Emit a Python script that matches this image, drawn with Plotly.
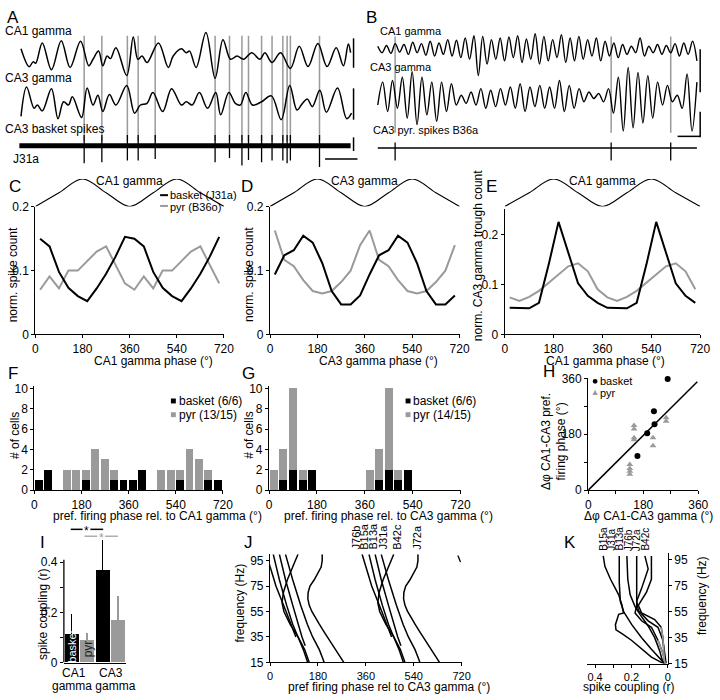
import plotly.graph_objects as go

# ===================== DATA =====================
# Panel A: CA1 / CA3 gamma LFP (time a.u., amplitude a.u., screen-down positive) and basket spikes
A_ca1_t = [55, 80, 92, 100, 120, 148, 178, 205, 237, 262, 275, 292, 305, 318, 328, 345, 378, 398, 412, 425,
           440, 475, 505, 520, 545, 560, 570, 590, 620, 648, 672, 695, 715, 735, 760, 785, 800, 822, 848, 878,
           905, 932, 962, 990, 1018, 1040, 1055, 1062]
A_ca1_v = [128, 183, 168, 172, 110, 192, 103, 185, 105, 180, 160, 135, 180, 150, 158, 125, 210, 92, 160, 150,
           170, 110, 185, 150, 128, 140, 135, 185, 78, 218, 100, 160, 150, 160, 140, 160, 140, 170, 140, 188,
           120, 182, 112, 182, 125, 180, 113, 140]
A_ca3_t = [55, 72, 95, 105, 120, 148, 168, 185, 200, 212, 240, 257, 275, 290, 305, 325, 345, 378, 402, 420,
           440, 458, 488, 515, 545, 560, 578, 600, 625, 650, 665, 690, 710, 725, 742, 762, 790, 820, 850, 876,
           898, 915, 930, 945, 968, 988, 1022, 1050, 1065]
A_ca3_v = [335, 245, 310, 300, 318, 250, 342, 290, 300, 275, 338, 248, 300, 270, 320, 268, 300, 240, 325, 300,
           295, 262, 320, 250, 300, 290, 300, 262, 310, 262, 330, 262, 295, 300, 262, 300, 290, 272, 345, 240,
           315, 295, 282, 305, 255, 322, 248, 342, 325]
A_spike_t = [248, 302, 380, 413, 465, 648, 692, 730, 750, 790, 822, 855, 868, 878, 967]
A_spike_low = [478, 475, 470, 470, 465, 475, 462, 485, 468, 475, 470, 470, 478, 470, 490]

# Panel B: CA1 / CA3 gamma LFP (successive extrema) and pyramidal spikes
B_ca1_v = [120, 140, 118, 142, 112, 138, 115, 145, 108, 140,
           112, 148, 105, 150, 110, 145, 100, 150, 102, 155,
           95, 160, 88, 210, 90, 175, 100, 160, 95, 165,
           92, 155, 88, 170, 98, 160, 82, 175, 90, 165,
           100, 155, 85, 170, 95, 165, 90, 160, 100, 150,
           95, 165, 105, 150, 110, 155, 115, 145, 120, 140,
           95, 150, 120, 140, 115, 145, 118, 140, 112, 150,
           110, 145, 105, 165]
B_ca3_v = [300, 230, 320, 225, 310, 215, 340, 198, 360, 215,
           330, 230, 350, 230, 320, 235, 300, 270, 295, 260,
           300, 250, 310, 255, 305, 250, 300, 245, 310, 235,
           320, 245, 305, 240, 310, 245, 310, 225, 320, 240,
           310, 250, 290, 260, 280, 265, 290, 250, 325, 215,
           380, 185, 370, 200, 355, 210, 340, 230, 300, 240,
           290, 270, 310, 205, 380, 230]
B_spike_t = [118, 778, 960]

# Panels C-E: phase histograms (bin centres of one gamma cycle, repeated for the 2nd cycle)
phase_centers = [18, 54, 90, 126, 162, 198, 234, 270, 306, 342]
C_basket = [0.150, 0.138, 0.098, 0.073, 0.060, 0.052, 0.072, 0.095, 0.122, 0.153]
C_pyr = [0.070, 0.091, 0.072, 0.100, 0.100, 0.115, 0.130, 0.138, 0.110, 0.080]
D_basket = [0.094, 0.124, 0.132, 0.155, 0.144, 0.112, 0.068, 0.047, 0.047, 0.061]
D_pyr = [0.163, 0.117, 0.107, 0.085, 0.068, 0.064, 0.068, 0.082, 0.100, 0.140]
E_basket = [0.053, 0.053, 0.052, 0.063, 0.140, 0.225, 0.165, 0.102, 0.077, 0.063]
E_pyr = [0.074, 0.067, 0.075, 0.087, 0.103, 0.120, 0.136, 0.142, 0.126, 0.090]
wave_phase = [0, 90, 180, 270, 360, 450, 540, 630, 720]
wave_val = [-1, 0, 1, 0, -1, 0, 1, 0, -1]

# Panels F-G: number of cells per preferred-phase bin (one cycle)
F_basket = [1, 2, 0, 0, 0, 1, 0, 0, 1, 1]
F_pyr = [0, 0, 0, 2, 2, 1, 4, 3, 1, 0]
G_basket = [0, 1, 2, 1, 2, 0, 0, 0, 0, 0]
G_pyr = [2, 3, 8, 1, 0, 0, 0, 0, 0, 0]

# Panel H
H_basket_x = [260, 215, 217, 193, 161]
H_basket_y = [358, 254, 212, 183, 110]
H_pyr_x = [150, 150, 150, 150, 136, 136, 136, 136, 212, 212, 255, 255]
H_pyr_y = [208, 197, 169, 162, 83, 70, 61, 51, 169, 143, 233, 222]
H_fit_x = [0, 357]
H_fit_y = [0, 349]

# Panel I
I_basket = [0.113, 0.370]
I_basket_err = [0.082, 0.120]
I_pyr = [0.088, 0.170]
I_pyr_err = [0.032, 0.095]

# Panel J: preferred phase vs frequency (first cycle; second = +360)
J_cells = {
    "J76b": ([100, 90, 75, 55, 45, 35], [-14, 0, 22, 60, 78, 97]),
    "B15a": ([100, 80, 60, 45, 35, 25, 15], [12, 35, 62, 85, 105, 125, 141]),
    "B13a": ([100, 80, 60, 45, 35, 28], [35, 58, 85, 105, 120, 132]),
    "J31a": ([100, 80, 60, 45, 35, 25, 18, 15], [58, 85, 115, 140, 160, 185, 198, 203]),
    "B42c": ([100, 90, 80, 70, 62, 55, 45, 35, 25, 15], [105, 85, 65, 50, 45, 52, 75, 105, 130, 147]),
    "J72a": ([100, 95, 90, 85, 80, 75, 70, 65, 60, 55, 50, 45, 40, 35, 30, 25, 20, 15],
             [196, 196, 192, 180, 166, 150, 143, 142, 147, 157, 170, 185, 200, 215, 232, 248, 262, 277]),
}
J_stray_f = [99, 94]
J_stray_p = [706, 716]
J_labels = ["J76b", "B15a", "B13a", "J31a", "B42c", "J72a"]

# Panel K: spike coupling vs frequency
K_cells = {
    "B15a": ([98, 90, 80, 68, 60, 54, 53, 48, 45, 41, 38, 33, 26, 20, 16, 15],
             [0.355, 0.346, 0.315, 0.27, 0.252, 0.243, 0.27, 0.28, 0.288, 0.285, 0.25, 0.20, 0.144, 0.09, 0.036, 0.018]),
    "J31a": ([98, 78, 63, 55, 45, 35, 26, 17.5, 15],
             [0.267, 0.267, 0.261, 0.243, 0.198, 0.144, 0.09, 0.036, 0.018]),
    "B13a": ([98, 80, 68, 59, 53, 44, 35, 25, 16],
             [0.225, 0.22, 0.207, 0.18, 0.153, 0.108, 0.072, 0.045, 0.027]),
    "J76b": ([98, 68, 60, 54, 48, 43, 33, 23, 15],
             [0.171, 0.171, 0.171, 0.18, 0.144, 0.09, 0.054, 0.027, 0.014]),
    "J72a": ([98, 88, 73, 63, 56, 48, 43, 33, 15],
             [0.126, 0.108, 0.144, 0.171, 0.162, 0.108, 0.054, 0.027, 0.009]),
    "B42c": ([98, 80, 70, 60, 54, 49, 43, 35, 17],
             [0.09, 0.09, 0.117, 0.162, 0.144, 0.072, 0.036, 0.027, 0.018]),
}
K_labels = ["B15a", "J31a", "B13a", "J76b", "J72a", "B42c"]

# ===================== FIGURE =====================
W, H = 720, 700
FONT = "Liberation Sans, Arial, sans-serif"
GRAY = "#9a9a9a"


def X(p):
    return p / W


def Y(p):
    return 1 - p / H


fig = go.Figure()
LAY = {}
n_ax = [0]
AXSTYLE = dict(showline=True, linecolor="black", linewidth=1.3, ticks="outside", ticklen=3,
               tickwidth=1.2, tickcolor="black", showgrid=False, zeroline=False,
               tickfont=dict(size=12, color="black", family=FONT))


def axes(x0, x1, ytop, ybot, xr, yr, xs=None, ys=None):
    n_ax[0] += 1
    k = n_ax[0]
    s = "" if k == 1 else str(k)
    xa = dict(domain=[X(x0), X(x1)], range=xr, anchor="y" + s, showgrid=False, zeroline=False, visible=False)
    ya = dict(domain=[Y(ybot), Y(ytop)], range=yr, anchor="x" + s, showgrid=False, zeroline=False, visible=False)
    if xs is not None:
        xa.update(AXSTYLE)
        xa.update(visible=True)
        xa.update(xs)
    if ys is not None:
        ya.update(AXSTYLE)
        ya.update(visible=True)
        ya.update(ys)
    LAY["xaxis" + s] = xa
    LAY["yaxis" + s] = ya
    return "x" + s, "y" + s


def line(ax, x, y, color="black", width=1.5, shape="linear", dash=None):
    fig.add_trace(go.Scatter(x=x, y=y, xaxis=ax[0], yaxis=ax[1], mode="lines",
                             line=dict(color=color, width=width, shape=shape, dash=dash,
                                       smoothing=1.0 if shape == "spline" else None),
                             hoverinfo="skip", showlegend=False))


def segs(xs, y0s, y1s):
    xx, yy = [], []
    for x, a, b in zip(xs, y0s, y1s):
        xx += [x, x, None]
        yy += [a, b, None]
    return xx, yy


ANN = []
SHP = []


def text(t, px, py, size=12, xa="center", ya="middle", angle=0, color="black"):
    ANN.append(dict(text=t, x=X(px), y=Y(py), xref="paper", yref="paper", showarrow=False,
                    xanchor=xa, yanchor=ya, textangle=angle, font=dict(size=size, color=color, family=FONT)))


def pline(x0, y0, x1, y1, color="black", width=1.5):
    SHP.append(dict(type="line", xref="paper", yref="paper", x0=X(x0), y0=Y(y0), x1=X(x1), y1=Y(y1),
                    line=dict(color=color, width=width)))


def prect(x0, y0, x1, y1, color):
    SHP.append(dict(type="rect", xref="paper", yref="paper", x0=X(x0), y0=Y(y0), x1=X(x1), y1=Y(y1),
                    line=dict(width=0), fillcolor=color))


# ---------- Panel A ----------
axA = axes(0, 360, 0, 170, [0, 1080], [510, 0])
gx, gy = segs(A_spike_t, [88] * len(A_spike_t), [410] * len(A_spike_t))
line(axA, gx, gy, color=GRAY, width=1.5)
line(axA, A_ca1_t, A_ca1_v, width=1.5, shape="spline")
line(axA, A_ca3_t, A_ca3_v, width=1.5, shape="spline")
line(axA, [50, 1062], [425, 425], width=5)
sx, sy = segs(A_spike_t, [392] * len(A_spike_t), A_spike_low)
line(axA, sx, sy, width=1.3)
text("A", 10, 11, size=17)
text("CA1 gamma", 0, 24, xa="left")
text("CA3 gamma", 0, 72, xa="left")
text("CA3 basket spikes", 0, 124, xa="left")
text("J31a", 8, 155, xa="left")
pline(357, 32, 357, 62)
pline(357, 83, 357, 115)
pline(357, 133, 357, 147)
pline(328, 155, 361, 155)

# ---------- Panel B ----------
axB = axes(360, 720, 0, 170, [0, 1080], [510, 0])
n1 = len(B_ca1_v)
B_ca1_t = [65 + i * 975 / (n1 - 1) for i in range(n1)]
n3 = len(B_ca3_v)
B_ca3_t = [65 + i * 975 / (n3 - 1) for i in range(n3)]
gx, gy = segs(B_spike_t, [90] * 3, [385] * 3)
line(axB, gx, gy, color=GRAY, width=1.5)
line(axB, B_ca1_t, B_ca1_v, width=1.4, shape="spline")
line(axB, B_ca3_t, B_ca3_v, width=1.4, shape="spline")
line(axB, [65, 1040], [432, 432], width=1.5)
sx, sy = segs(B_spike_t, [415] * 3, [470] * 3)
line(axB, sx, sy, width=1.3)
text("B", 375, 11, size=17)
text("CA1 gamma", 382, 24, xa="left", size=11)
text("CA3 gamma", 372, 61, xa="left", size=11)
text("CA3 pyr. spikes B36a", 375, 126, xa="left", size=11)
pline(710, 43, 710, 87)
pline(710, 107, 710, 133)
pline(687, 132, 710, 132)

# ---------- Panels C, D, E ----------
ph2 = phase_centers + [p + 360 for p in phase_centers]
xt = dict(tickvals=[0, 180, 360, 540, 720], range=[0, 720])


def phase_panel(x0, x1, ytop, yr, yticks, ytext, basket, pyr, title, letter, lx, ylab, ylab_x, ylab_y, xt_x):
    wv = axes(x0, x1, 175.5, 203.5, [0, 720], [-1, 1])
    line(wv, wave_phase, wave_val, width=1.1, shape="spline")
    ax = axes(x0, x1, ytop, 334, [0, 720], yr, xs=dict(xt), ys=dict(tickvals=yticks, ticktext=ytext))
    line(ax, ph2, pyr + pyr, color=GRAY, width=2)
    line(ax, ph2, basket + basket, color="black", width=2)
    text(title, (x0 + x1) / 2, 178)
    text(letter, lx, 183, size=17)
    text(ylab, ylab_x, ylab_y, angle=-90)
    text(xt_x[0], xt_x[1], 361)


phase_panel(33, 225, 204, [0, 0.2], [0, 0.1, 0.2], ["0", "0.1", "0.2"], C_basket, C_pyr,
            "CA1 gamma", "C", 12, "norm. spike count", 10, 273, ("CA1 gamma phase (°)", 153))
phase_panel(272, 465, 204, [0, 0.2], [0, 0.1, 0.2], ["0", "0.1", "0.2"], D_basket, D_pyr,
            "CA3 gamma", "D", 248, "norm. spike count", 250, 273, ("CA3 gamma phase (°)", 382))
phase_panel(511, 710, 206.5, [0, 0.25], [0, 0.1, 0.2], ["0", "0.1", "0.2"], E_basket, E_pyr,
            "CA1 gamma", "E", 497, "norm. CA3 gamma trough count", 484, 254, ("CA1 gamma phase (°)", 614))
# legend C
pline(160, 192, 168, 192, width=2)
text("basket (J31a)", 168, 192, xa="left", size=11)
pline(160, 203, 168, 203, color=GRAY, width=2)
text("pyr (B36o)", 168, 204, xa="left", size=11)

# ---------- Panels F, G ----------
bin2 = phase_centers + [p + 360 for p in phase_centers]


def hist_panel(x0, x1, basket, pyr, letter, lx, xlabel, xlab_x, leg_x, pyr_lab):
    ax = axes(x0, x1, 387, 493, [0, 720], [0, 10.2], xs=dict(xt),
              ys=dict(tickvals=[0, 2, 4, 6, 8, 10], range=[0, 10.2]))
    fig.add_trace(go.Bar(x=bin2, y=basket + basket, width=30, marker=dict(color="black", line=dict(width=0)),
                         xaxis=ax[0], yaxis=ax[1], showlegend=False, hoverinfo="skip"))
    fig.add_trace(go.Bar(x=bin2, y=pyr + pyr, width=30, marker=dict(color=GRAY, line=dict(width=0)),
                         xaxis=ax[0], yaxis=ax[1], showlegend=False, hoverinfo="skip"))
    text(letter, lx, 374, size=17)
    text("# of cells", x0 - 20, 437, angle=-90)
    text(xlabel, xlab_x, 519)
    prect(leg_x, 399.5, leg_x + 5, 404.5, "black")
    text("basket (6/6)", leg_x + 6, 402, xa="left")
    prect(leg_x, 413.5, leg_x + 5, 418.5, GRAY)
    text(pyr_lab, leg_x + 6, 416, xa="left")


hist_panel(32, 224, F_basket, F_pyr, "F", 10, "pref. firing phase rel. to CA1 gamma (°)", 157, 171, "pyr (13/15)")
hist_panel(271, 466, G_basket, G_pyr, "G", 250, "pref. firing phase rel. to CA3 gamma (°)", 393, 410, "pyr (14/15)")

# ---------- Panel H ----------
hticks = dict(tickvals=[0, 90, 180, 270, 360], ticktext=["0", "", "180", "", "360"], range=[0, 360])
axH = axes(596, 708, 379, 493, [0, 360], [0, 360], xs=dict(hticks), ys=dict(hticks))
line(axH, H_fit_x, H_fit_y, width=1.5)
fig.add_trace(go.Scatter(x=H_pyr_x, y=H_pyr_y, xaxis=axH[0], yaxis=axH[1], mode="markers",
                         marker=dict(symbol="triangle-up", size=6, color=GRAY), showlegend=False,
                         hoverinfo="skip", cliponaxis=False))
fig.add_trace(go.Scatter(x=H_basket_x, y=H_basket_y, xaxis=axH[0], yaxis=axH[1], mode="markers",
                         marker=dict(symbol="circle", size=6, color="black"), showlegend=False,
                         hoverinfo="skip", cliponaxis=False))
text("H", 556, 372, size=17)
text("Δφ CA1-CA3 pref.<br>firing phase (°)", 561, 443, angle=-90)
text("Δφ CA1-CA3 gamma (°)", 657, 519)
SHP.append(dict(type="circle", xref="paper", yref="paper", x0=X(600.5), y0=Y(379.5), x1=X(605.5), y1=Y(384.5),
                fillcolor="black", line=dict(width=0)))
SHP.append(dict(type="path", xref="paper", yref="paper",
                path="M %f %f L %f %f L %f %f Z" % (X(600.3), Y(396), X(605.7), Y(396), X(603), Y(390.5)),
                fillcolor=GRAY, line=dict(width=0)))
text("basket", 606, 382, xa="left", size=11)
text("pyr", 606, 394, xa="left", size=11)

# ---------- Panel I ----------
axI = axes(62, 125, 541, 669, [-0.5, 3.5], [0, 0.5],
           xs=dict(showticklabels=False, ticks=""),
           ys=dict(tickvals=[0, 0.1, 0.2, 0.3, 0.4], ticktext=["0", "", "0.2", "", "0.4"], showline=False))
fig.add_trace(go.Bar(x=[0, 2], y=I_basket, width=0.92, marker=dict(color="black", line=dict(width=0)),
                     error_y=dict(type="data", array=I_basket_err, arrayminus=[0, 0], symmetric=False,
                                  color="black", thickness=1.5, width=0),
                     xaxis=axI[0], yaxis=axI[1], showlegend=False, hoverinfo="skip"))
fig.add_trace(go.Bar(x=[1, 3], y=I_pyr, width=0.92, marker=dict(color=GRAY, line=dict(width=0)),
                     error_y=dict(type="data", array=I_pyr_err, arrayminus=[0, 0], symmetric=False,
                                  color=GRAY, thickness=1.5, width=0),
                     xaxis=axI[0], yaxis=axI[1], showlegend=False, hoverinfo="skip"))
SHP.append(dict(type="line", xref="paper", yref=axI[1], x0=X(62), x1=X(62), y0=0, y1=0.41,
                line=dict(color="black", width=1.3)))
text("I", 40, 546, size=17)
text("spike coupling (r)", 40, 620, angle=-90)
text("basket", 70, 653, angle=-90, color="white", size=11)
text("pyr", 86, 655, angle=-90, color="#222222", size=12)
text("CA1", 72, 680)
text("CA3", 110, 680)
text("gamma gamma", 93, 693)
pline(69, 533, 81, 533, width=1.5)
pline(89, 533, 102, 533, width=1.5)
text("*", 85, 535, size=12)
pline(83, 540, 96, 540, color=GRAY, width=1.2)
pline(104, 540, 117, 540, color=GRAY, width=1.2)
text("*", 100, 542, size=12, color=GRAY)

# ---------- Panel J ----------
small_ticks = dict(size=11, color="black", family=FONT)
axJ = axes(272, 467, 558.5, 668.7, [0, 720], [15, 100], xs=dict(xt, tickfont=small_ticks),
           ys=dict(tickvals=[15, 35, 55, 75, 95]))
for name in J_labels:
    f, p = J_cells[name]
    line(axJ, p, f, width=1.5)
    line(axJ, [v + 360 for v in p], f, width=1.5)
line(axJ, J_stray_p, J_stray_f, width=1.3)
text("J", 250, 546, size=17)
text("frequency (Hz)", 241, 608, angle=-90)
text("pref firing phase rel to CA3 gamma (°)", 393, 694)
for name, lxp in zip(J_labels, [359, 368, 377, 387, 401, 422]):
    text(name, lxp, 556, angle=-90, ya="bottom", size=11)

# ---------- Panel K ----------
axK = axes(595, 677, 557.5, 670, [0.443, 0], [15, 100],
           xs=dict(tickvals=[0, 0.1, 0.2, 0.3, 0.4], ticktext=["0", "", "0.2", "", "0.4"], tickfont=small_ticks),
           ys=dict(tickvals=[15, 35, 55, 75, 95], side="right"))
for name in K_labels:
    f, r = K_cells[name]
    line(axK, r, f, width=1.5)
fB, rB = K_cells["B42c"]
line(axK, [r for r, ff in zip(rB, fB) if ff <= 43], [ff for ff in fB if ff <= 43], color=GRAY, width=1.5)
fJ, rJ = K_cells["J76b"]
line(axK, [r for r, ff in zip(rJ, fJ) if ff <= 33], [ff for ff in fJ if ff <= 33], color=GRAY, width=1.5)
text("K", 577, 546, size=17)
text("frequency (Hz)", 712, 601, angle=-90)
text("spike coupling (r)", 637, 694)
for name, lxp in zip(K_labels, [612, 620, 628, 637, 646, 654]):
    text(name, lxp, 557, angle=-90, ya="bottom", size=10)

fig.update_layout(**LAY)
fig.update_layout(width=W, height=H, margin=dict(l=0, r=0, t=0, b=0), autosize=False,
                  paper_bgcolor="white", plot_bgcolor="white", barmode="stack", bargap=0,
                  showlegend=False, annotations=ANN, shapes=SHP,
                  font=dict(family=FONT, size=12, color="black"))
fig.write_html("out.html", config={"displayModeBar": False},
               post_script="document.body.style.margin='0px';document.body.style.overflow='hidden';")
